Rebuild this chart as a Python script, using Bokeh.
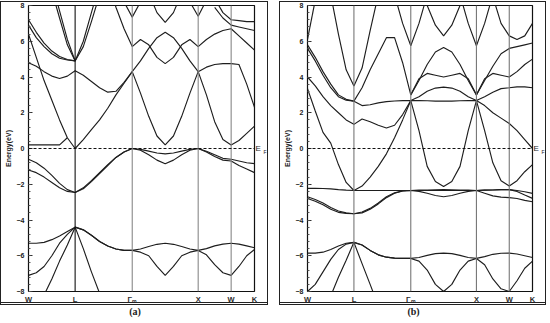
from bokeh.plotting import figure
from bokeh.layouts import row, column
from bokeh.models import Range1d, FixedTicker, Span, LinearAxis, Div
from bokeh.embed import file_html
from bokeh.resources import INLINE

N = float("nan")

# high-symmetry points of the fcc path (distances in 2*pi/a)
node_labels = ["W", "L", "Γₘ", "X", "W", "K"]
node_k = [0.0, 0.707, 1.573, 2.573, 3.073, 3.427]

# k sampling points along the path  (W-L | L-G | G-X | X-W | W-K)
k_grid = [0.0, 0.118, 0.236, 0.354, 0.471, 0.589,
          0.707, 0.831, 0.954, 1.078, 1.202, 1.326, 1.449,
          1.573, 1.698, 1.823, 1.948, 2.073, 2.198, 2.323, 2.448,
          2.573, 2.698, 2.823, 2.948,
          3.073, 3.191, 3.309, 3.427]

# ---------- panel (a) bands (eV); nan = band leaves the window ----------
a_v1 = [-10.5, -9.3, -8.2, -7.3, -6.3, -5.4,
        -4.4, -5.6, -6.9, -8.1, -9.3, -10.3, -11.0,
        -11.5, -11.3, -11.0, -10.6, -10.2, -9.8, -9.5, -9.3,
        -9.2, -9.4, -9.7, -10.1,
        -10.5, -10.4, -10.3, -10.2]
a_v2 = [-7.1, -6.95, -6.6, -6.0, -5.3, -4.8,
        -4.4, -4.55, -4.85, -5.2, -5.45, -5.62, -5.7,
        -5.7, -5.8, -6.0, -6.6, -7.1, -6.6, -6.0, -5.8,
        -5.7, -5.95, -6.5, -6.95,
        -7.1, -6.6, -6.0, -5.65]
a_v3 = [-5.3, -5.3, -5.25, -5.1, -4.9, -4.65,
        -4.4, -4.55, -4.85, -5.2, -5.45, -5.62, -5.7,
        -5.7, -5.62, -5.48, -5.36, -5.3, -5.36, -5.48, -5.62,
        -5.7, -5.6, -5.45, -5.35,
        -5.3, -5.35, -5.45, -5.55]
a_v4 = [-1.2, -1.35, -1.6, -1.9, -2.2, -2.4,
        -2.46, -2.25, -1.85, -1.4, -0.95, -0.5, -0.2,
        0.0, -0.1, -0.35, -0.65, -0.85, -0.65, -0.35, -0.1,
        0.0, -0.2, -0.45, -0.65,
        -0.7, -0.95, -1.15, -1.35]
a_v5 = [-0.6, -0.8, -1.1, -1.5, -1.95, -2.3,
        -2.46, -2.2, -1.8, -1.35, -0.9, -0.5, -0.2,
        0.0, -0.05, -0.15, -0.25, -0.3, -0.25, -0.15, -0.05,
        0.0, -0.15, -0.35, -0.55,
        -0.6, -0.7, -0.8, -0.85]
a_v6 = [0.2, 0.2, 0.2, 0.2, 0.2, 0.6,
        N, N, N, N, N, N, N,
        N, N, N, N, N, N, N, N,
        N, N, N, N,
        N, N, N, N]
a_c1 = [6.4, 5.1, 3.8, 2.7, 1.6, 0.6,
        0.0, 0.5, 1.05, 1.6, 2.25, 3.0, 3.65,
        4.3, 3.1, 1.8, 0.7, 0.2, 0.7, 1.8, 3.1,
        4.3, 3.0, 1.5, 0.5,
        0.2, 0.45, 0.85, 1.25]
a_c2 = [4.8, 4.6, 4.3, 4.05, 3.92, 4.05,
        4.35, 4.1, 3.75, 3.4, 3.15, 3.2, 3.7,
        4.3, 4.9, 5.6, 6.2, 6.5, 6.2, 5.6, 4.9,
        4.3, 4.55, 4.7, 4.75,
        4.75, 4.7, 3.6, 2.3]
a_c3 = [7.2, 6.5, 5.9, 5.45, 5.15, 4.98,
        4.9, 5.7, 7.1, 8.6, N, N, N,
        N, N, N, N, N, N, N, N,
        N, N, N, N,
        N, N, N, N]
a_c4 = [6.9, 6.2, 5.7, 5.3, 5.05, 4.95,
        4.9, 6.0, 7.6, 9.2, N, N, N,
        N, N, N, N, N, N, N, N,
        N, N, N, N,
        N, N, N, N]
a_c5 = [N, N, N, 8.8, 7.3, 5.8,
        4.9, N, N, N, N, N, N,
        N, N, N, N, N, N, N, N,
        N, N, N, N,
        N, N, N, N]
a_c6 = [N, N, N, 9.3, 7.7, 6.1,
        4.9, N, N, N, N, N, N,
        N, N, N, N, N, N, N, N,
        N, N, N, N,
        N, N, N, N]
a_c7 = [N, N, N, N, N, N,
        N, N, N, N, 9.4, 7.9, 6.7,
        5.7, 6.1, 5.8, 5.1, 4.75, 5.1, 5.8, 6.1,
        5.7, 6.1, 6.4, 6.6,
        6.7, 6.3, 5.9, 5.5]
a_c8 = [N, N, N, N, N, N,
        N, N, N, N, N, 9.6, 8.2,
        7.35, 8.2, 9.5, N, N, N, N, N,
        N, N, N, N,
        N, N, N, N]
a_c9 = [N, N, N, N, N, N,
        N, N, N, N, N, N, N,
        N, N, 8.7, 7.6, 7.05, 7.6, 8.7, N,
        N, N, N, N,
        N, N, N, N]
a_c10 = [N, N, N, N, N, N,
         N, N, N, N, N, N, N,
         N, N, N, N, N, N, 9.5, 8.2,
         7.4, 8.3, N, N,
         N, N, N, N]
a_c11 = [N, N, N, N, N, N,
         N, N, N, N, N, N, N,
         N, N, N, N, N, N, N, N,
         N, N, 8.4, 7.6,
         7.2, 7.15, 7.1, 7.1]
a_c12 = [N, N, N, N, N, N,
         N, N, N, N, N, N, N,
         N, N, N, N, N, N, N, N,
         N, N, 7.9, 7.3,
         6.9, 6.8, 6.7, 6.6]

# ---------- panel (b) bands (eV) ----------
b_v1 = [-11.3, -10.3, -9.3, -8.25, -7.2, -6.25,
        -5.25, -6.44, -7.6, -8.8, -9.8, -10.6, -11.1,
        -11.4, -11.2, -10.9, -10.5, -10.2, -9.9, -9.6, -9.4,
        -9.3, -9.5, -9.9, -10.5,
        -11.3, -11.4, -11.5, -11.5]
b_v2 = [-8.0, -7.6, -6.9, -6.2, -5.65, -5.35,
        -5.25, -5.4, -5.7, -5.95, -6.08, -6.13, -6.15,
        -6.15, -6.3, -6.8, -7.6, -8.0, -7.6, -6.8, -6.3,
        -6.15, -6.5, -7.3, -7.85,
        -8.0, -7.4, -6.7, -6.3]
b_v3 = [-5.85, -5.85, -5.8, -5.65, -5.45, -5.3,
        -5.25, -5.4, -5.7, -5.95, -6.08, -6.13, -6.15,
        -6.15, -6.1, -5.98, -5.88, -5.85, -5.88, -5.98, -6.1,
        -6.15, -6.05, -5.92, -5.86,
        -5.85, -5.9, -6.0, -6.1]
b_v4 = [-2.8, -2.95, -3.15, -3.4, -3.57, -3.63,
        -3.65, -3.6, -3.4, -3.1, -2.75, -2.5, -2.38,
        -2.35, -2.4, -2.5, -2.63, -2.7, -2.63, -2.5, -2.4,
        -2.35, -2.5, -2.65, -2.72,
        -2.75, -2.8, -2.9, -2.98]
b_v5 = [-2.7, -2.85, -3.05, -3.3, -3.5, -3.6,
        -3.65, -3.55, -3.35, -3.05, -2.7, -2.48, -2.37,
        -2.35, -2.35, -2.35, -2.35, -2.35, -2.35, -2.35, -2.35,
        -2.35, -2.33, -2.32, -2.3,
        -2.3, -2.4, -2.6, -2.79]
b_v6 = [-2.23, -2.23, -2.24, -2.26, -2.3, -2.33,
        -2.35, -2.35, -2.35, -2.35, -2.35, -2.35, -2.35,
        -2.35, -2.33, -2.32, -2.31, -2.3, -2.31, -2.32, -2.33,
        -2.35, -2.33, -2.32, -2.3,
        -2.3, -2.35, -2.42, -2.51]
b_c1 = [3.35, 2.1, 0.9, 0.3, -0.9, -1.9,
        -2.35, -2.1, -1.6, -1.0, -0.3, 0.6, 1.6,
        2.68, 1.0, -1.0, -1.85, -2.13, -1.85, -1.0, 1.0,
        2.68, 1.0, -0.8, -1.8,
        -2.1, -1.8, -1.3, -0.9]
b_c2 = [4.0, 3.5, 2.9, 2.4, 2.0, 1.6,
        1.35, 1.65, 1.5, 1.3, 1.15, 1.3, 1.9,
        2.68, 2.68, 2.67, 2.65, 2.65, 2.65, 2.67, 2.68,
        2.68, 2.4, 2.0, 1.7,
        1.4, 1.0, 0.5, 0.0]
b_c3 = [5.6, 4.9, 4.1, 3.4, 2.9, 2.7,
        2.65, 2.4, 2.45, 2.55, 2.62, 2.66, 2.68,
        2.68, 2.9, 3.2, 3.38, 3.43, 3.38, 3.2, 2.9,
        2.68, 2.9, 3.15, 3.35,
        3.4, 3.45, 3.45, 3.4]
b_c4 = [5.8, 5.1, 4.3, 3.6, 3.0, 2.75,
        2.65, 3.4, 4.4, 5.3, 6.2, 6.2, 4.8,
        3.0, 3.9, 4.2, 4.1, 4.0, 4.1, 4.2, 3.9,
        3.0, 3.9, 4.2, 4.1,
        4.0, 4.3, 4.7, 5.0]
b_c5 = [N, N, N, N, N, N,
        N, N, N, N, N, N, N,
        3.0, 3.8, 4.7, 5.4, 5.65, 5.4, 4.7, 3.8,
        3.0, 3.8, 4.6, 5.3,
        5.6, 5.7, 5.8, 5.9]
b_c6 = [N, N, N, 8.6, 6.4, 4.4,
        3.5, 4.5, 6.6, 8.6, N, N, N,
        N, N, N, N, N, N, N, N,
        N, N, N, N,
        N, N, N, N]
b_c7 = [N, N, N, N, N, N,
        N, N, N, N, N, 8.6, 7.0,
        5.75, 7.0, 8.6, N, N, N, N, N,
        N, N, N, N,
        N, N, N, N]
b_c8 = [N, N, N, N, N, N,
        N, N, N, N, N, N, N,
        N, 9.5, 8.0, 6.9, 6.3, 6.9, 8.0, 9.5,
        N, N, N, N,
        N, N, N, N]
b_c9 = [N, N, N, N, N, N,
        N, N, N, N, N, N, N,
        N, N, N, N, N, N, 8.6, 7.0,
        5.75, 7.0, 8.6, N,
        N, N, N, N]
b_c10 = [N, N, N, N, N, N,
         N, N, N, N, N, N, N,
         N, N, N, N, N, N, N, N,
         N, N, 8.5, 7.0,
         6.3, 6.1, 6.3, 7.0]
b_c11 = [6.1, 8.3, N, N, N, N,
         N, N, N, N, N, N, N,
         N, N, N, N, N, N, N, N,
         N, N, N, N,
         N, N, N, N]

panel_a = [a_v1, a_v2, a_v3, a_v4, a_v5, a_v6, a_c1, a_c2, a_c3, a_c4, a_c5,
           a_c6, a_c7, a_c8, a_c9, a_c10, a_c11, a_c12]
panel_b = [b_v1, b_v2, b_v3, b_v4, b_v5, b_v6, b_c1, b_c2, b_c3, b_c4, b_c5,
           b_c6, b_c7, b_c8, b_c9, b_c10, b_c11]

y_ticks = [-8, -6, -4, -2, 0, 2, 4, 6, 8]
y_minor = [v / 10 for v in range(-80, 81, 4)]
TXT = "#1a1a1a"
FONT = "Liberation Sans"


def make_panel(bands, width, vline_colors):
    p = figure(width=width, height=304, output_backend="svg", toolbar_location=None,
               x_range=Range1d(node_k[0], node_k[-1]), y_range=Range1d(-8, 8),
               min_border_left=24, min_border_right=12,
               min_border_top=3, min_border_bottom=11)
    p.styles = {"border": "1px solid #222222", "border-bottom": "3px double #222222"}
    p.background_fill_color = "white"
    p.border_fill_color = "white"
    p.outline_line_color = "#111111"
    p.outline_line_width = 1.2
    p.xgrid.visible = False
    p.ygrid.visible = False

    # y axis
    p.yaxis.ticker = FixedTicker(ticks=y_ticks, minor_ticks=y_minor)
    p.yaxis.axis_line_color = None
    p.yaxis.major_tick_in = 4
    p.yaxis.major_tick_out = 0
    p.yaxis.minor_tick_in = 2
    p.yaxis.minor_tick_out = 0
    p.yaxis.major_tick_line_color = "#333333"
    p.yaxis.minor_tick_line_color = "#555555"
    p.yaxis.major_label_text_font = FONT
    p.yaxis.major_label_text_font_size = "7px"
    p.yaxis.major_label_text_font_style = "bold"
    p.yaxis.major_label_text_color = TXT
    p.yaxis.major_label_standoff = 4
    p.yaxis.axis_label = "Energy(eV)"
    p.yaxis.axis_label_text_font = FONT
    p.yaxis.axis_label_text_font_size = "7px"
    p.yaxis.axis_label_text_font_style = "bold"
    p.yaxis.axis_label_text_color = TXT
    p.yaxis.axis_label_standoff = 2

    # x axis: high-symmetry labels
    p.xaxis.ticker = FixedTicker(ticks=node_k)
    p.xaxis.major_label_overrides = {k: lab for k, lab in zip(node_k, node_labels)}
    p.xaxis.axis_line_color = None
    p.xaxis.major_tick_in = 0
    p.xaxis.major_tick_out = 0
    p.xaxis.minor_tick_in = 0
    p.xaxis.minor_tick_out = 0
    p.xaxis.major_tick_line_color = None
    p.xaxis.minor_tick_line_color = None
    p.xaxis.major_label_text_font = FONT
    p.xaxis.major_label_text_font_size = "7.5px"
    p.xaxis.major_label_text_font_style = "bold"
    p.xaxis.major_label_text_color = "#2a2a2a"
    p.xaxis.major_label_standoff = 3

    # E_F marker on the right side (E with a lowered small F)
    ax_e = LinearAxis(ticker=FixedTicker(ticks=[0]), major_label_overrides={0: "E"})
    ax_f = LinearAxis(ticker=FixedTicker(ticks=[-0.2]), major_label_overrides={-0.2: "F"})
    for ax, size, so in ((ax_e, "8px", 1), (ax_f, "5px", 0)):
        ax.axis_line_color = None
        ax.major_tick_in = 0
        ax.major_tick_out = 0
        ax.minor_tick_in = 0
        ax.minor_tick_out = 0
        ax.major_tick_line_color = None
        ax.minor_tick_line_color = None
        ax.major_label_text_font = FONT
        ax.major_label_text_font_size = size
        ax.major_label_text_color = TXT
        ax.major_label_standoff = so
        p.add_layout(ax, "right")

    # vertical lines at the high-symmetry points
    for k, c in zip(node_k[1:-1], vline_colors):
        p.add_layout(Span(location=k, dimension="height", line_color=c, line_width=1.1))

    # Fermi level
    p.add_layout(Span(location=0, dimension="width", line_color="#111111",
                      line_width=1, line_dash="3 2"))

    for band in bands:
        p.line(k_grid, band, line_color="#1e1e1e", line_width=1.15)
    return p


def caption(text, width):
    return Div(text=text, width=width, height=13, margin=0,
               styles={"text-align": "center", "font-family": "Liberation Serif",
                       "font-size": "10px", "font-weight": "bold", "line-height": "13px",
                       "color": TXT})


pa = make_panel(panel_a, 268, ["#111111", "#888888", "#888888", "#888888"])
pb = make_panel(panel_b, 267, ["#777777", "#777777", "#777777", "#777777"])

layout = row(column(pa, caption("(a)", 270), spacing=0),
             column(pb, caption("(b)", 269), spacing=0), spacing=9,
             styles={"margin-top": "1px"})
open("out.html", "w").write(file_html(layout, INLINE, "Band structures"))
